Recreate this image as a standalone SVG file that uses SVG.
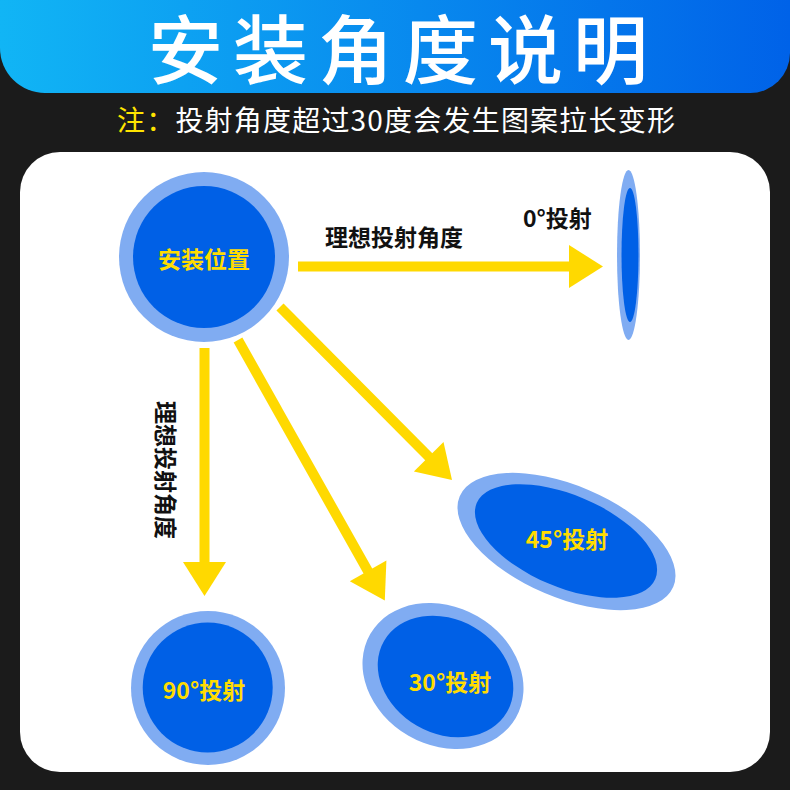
<svg xmlns="http://www.w3.org/2000/svg" width="790" height="790" viewBox="0 0 790 790">
<defs>
<linearGradient id="bannerGrad" x1="0" y1="0" x2="1" y2="0">
<stop offset="0" stop-color="#11b5f5"/>
<stop offset="1" stop-color="#0062e8"/>
</linearGradient>
</defs>
<style>
.cjk{font-family:"Noto Sans CJK SC","Noto Sans",sans-serif}
.lbl{font-family:"Noto Sans CJK SC","Noto Sans",sans-serif;font-weight:bold;font-size:23px;fill:#111}
.yl{font-family:"Noto Sans CJK SC","Noto Sans",sans-serif;font-weight:bold;font-size:23px;fill:#ffdc00;text-anchor:middle;dominant-baseline:central}
.ring{fill:#80acf2}
.core{fill:#0060e6}
.arr{stroke:#ffd900;stroke-width:10;fill:none}
.head{fill:#ffd900}
</style>
<rect x="0" y="0" width="790" height="790" fill="#1b1b1b"/>
<path d="M0 0 H790 V53 A40 40 0 0 1 750 93 H45 A45 45 0 0 1 0 48 Z" fill="url(#bannerGrad)"/>
<text class="cjk" x="148" y="78" font-size="75" font-weight="500" letter-spacing="10" fill="#ffffff">安装角度说明</text>
<text class="cjk" x="117" y="131" font-size="28" letter-spacing="1.2" fill="#ffffff"><tspan fill="#ffe400">注：</tspan>投射角度超过30度会发生图案拉长变形</text>
<rect x="20" y="152" width="750" height="620" rx="40" ry="40" fill="#ffffff"/>

<g id="connectors">
<line class="arr" x1="298" y1="266.5" x2="571" y2="266.5"/>
<polygon class="head" points="569,245 603,266.5 569,288"/>
<line class="arr" x1="204.5" y1="348" x2="204.5" y2="564"/>
<polygon class="head" points="183,562 204.5,596 226,562"/>
<line class="arr" x1="238" y1="340" x2="369" y2="573"/>
<polygon class="head" points="386.4,560.6 384.8,600.5 349.8,581.2"/>
<line class="arr" x1="280" y1="307" x2="430" y2="458"/>
<polygon class="head" points="443.5,441.9 452,480 413.9,471.5"/>
</g>

<text class="lbl" x="325" y="246">理想投射角度</text>
<text class="lbl" transform="translate(167,470) rotate(90)" text-anchor="middle" dominant-baseline="central" x="0" y="0">理想投射角度</text>

<g id="install">
<circle class="ring" cx="204" cy="257" r="85"/>
<circle class="core" cx="204" cy="257" r="71"/>
<text class="yl" x="204" y="258">安装位置</text>
</g>

<g id="proj0">
<ellipse class="ring" cx="628.5" cy="255" rx="11.5" ry="85"/>
<ellipse class="core" cx="630" cy="255" rx="8.5" ry="67"/>
<text class="lbl" x="523" y="227" font-size="21">0°投射</text>
</g>

<g id="proj45">
<ellipse class="ring" cx="566.5" cy="541.5" rx="116" ry="56" transform="rotate(23 566.5 541.5)"/>
<ellipse class="core" cx="566" cy="541" rx="97" ry="46" transform="rotate(23 566 541)"/>
<text class="yl" x="567" y="538">45°投射</text>
</g>

<g id="proj30">
<ellipse class="ring" cx="443" cy="676" rx="84" ry="69" transform="rotate(30 443 676)"/>
<ellipse class="core" cx="445.5" cy="676.5" rx="71" ry="57" transform="rotate(30 445.5 676.5)"/>
<text class="yl" x="450" y="681">30°投射</text>
</g>

<g id="proj90">
<circle class="ring" cx="208" cy="688" r="77"/>
<circle class="core" cx="207.7" cy="687.5" r="65"/>
<text class="yl" x="204" y="689">90°投射</text>
</g>
</svg>
